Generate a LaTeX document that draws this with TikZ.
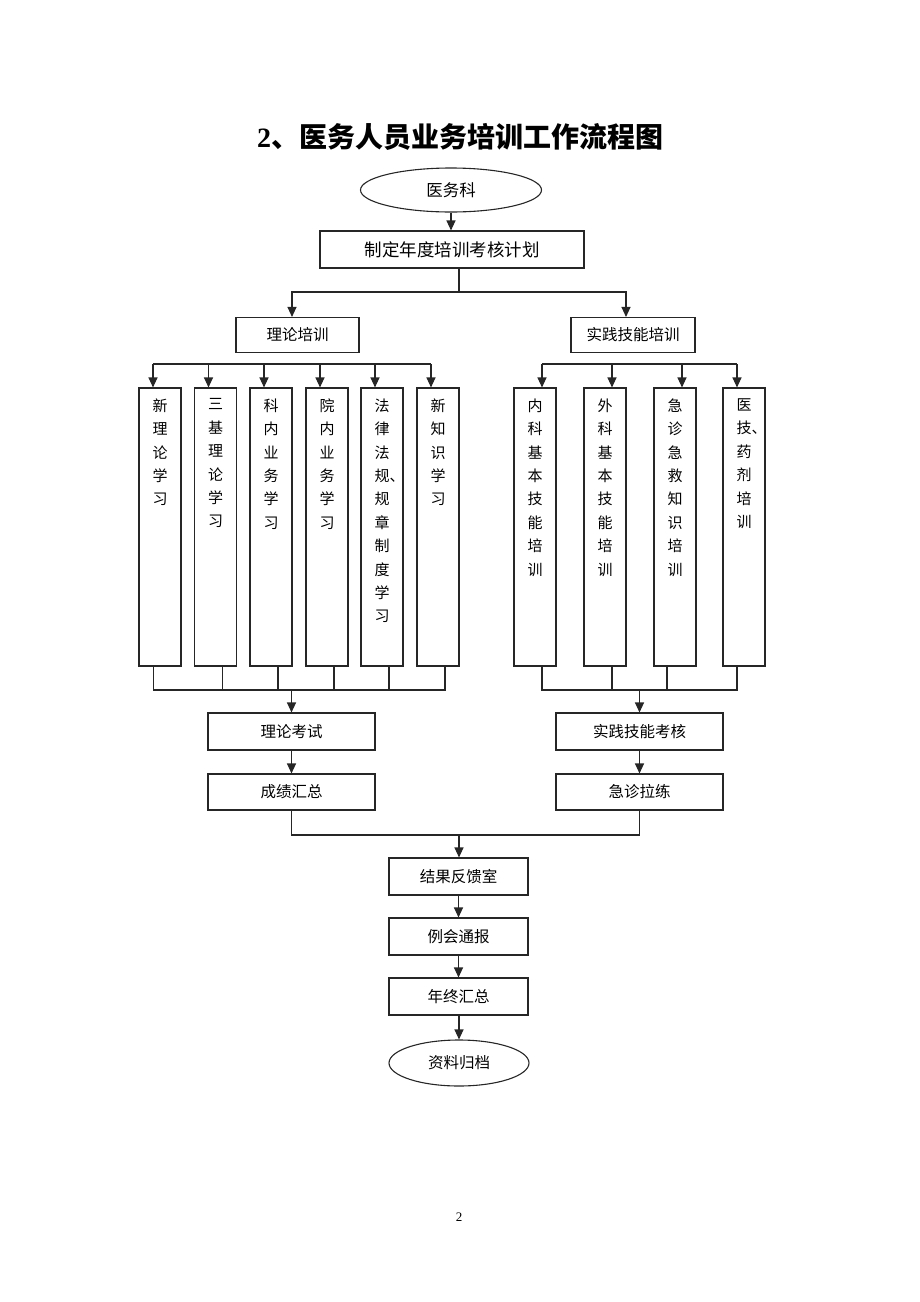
\documentclass[tikz,border=0pt]{standalone}
\usepackage{fontspec}
\setmainfont{Liberation Serif}
\newfontfamily\cjk{Noto Sans CJK SC}
\usetikzlibrary{arrows.meta,shapes.geometric}
\tikzset{
  ln/.style={draw=black!85,line width=1.1pt},
  arr/.style={ln,-{Triangle[length=10pt,width=9pt]}},
  box/.style={draw=black!85,line width=1.1pt,rectangle,inner sep=0pt,font=\cjk\fontsize{15.5}{18}\selectfont},
  oval/.style={draw=black!85,line width=1.1pt,ellipse,inner sep=0pt,font=\cjk\fontsize{16.5}{18}\selectfont},
  vbox/.style={draw=black!85,line width=1.1pt,rectangle,inner sep=0pt,minimum width=42pt,minimum height=278pt},
  vtxt/.style={anchor=north,inner sep=0pt,align=center,font=\cjk\fontsize{15}{23.4}\selectfont},
}
\begin{document}
\begin{tikzpicture}[x=1pt,y=-1pt]
\useasboundingbox (0,0) rectangle (920,1302);
% title
\node (title) at (460,137) {\bfseries\fontsize{28}{30}\selectfont 2{\cjk 、医务人员业务培训工作流程图}};
% top
\node[oval,minimum width=181pt,minimum height=44pt] (yiwu) at (451,190) {医务科};
\node[box,minimum width=264pt,minimum height=37pt,font=\cjk\fontsize{17.5}{18}\selectfont] (plan) at (452,249.5) {制定年度培训考核计划};
\node[box,minimum width=123pt,minimum height=35pt] (lilun) at (297.5,335) {理论培训};
\node[box,minimum width=124pt,minimum height=35pt] (shijian) at (633,335) {实践技能培训};
% left vertical boxes
\node[vbox,label={[vtxt,yshift=-11pt]north:新\\理\\论\\学\\习}] (l1) at (160,527) {};
\node[vbox,label={[vtxt,yshift=-11pt]north:三\\基\\理\\论\\学\\习}] (l2) at (215.5,527) {};
\node[vbox,label={[vtxt,yshift=-11pt]north:科\\内\\业\\务\\学\\习}] (l3) at (271,527) {};
\node[vbox,label={[vtxt,yshift=-11pt]north:院\\内\\业\\务\\学\\习}] (l4) at (327,527) {};
\node[vbox,label={[vtxt,yshift=-11pt]north:法\\律\\法\\规\rlap{、}\\规\\章\\制\\度\\学\\习}] (l5) at (382,527) {};
\node[vbox,label={[vtxt,yshift=-11pt]north:新\\知\\识\\学\\习}] (l6) at (438,527) {};
% right vertical boxes
\node[vbox,label={[vtxt,yshift=-11pt]north:内\\科\\基\\本\\技\\能\\培\\训}] (r1) at (535,527) {};
\node[vbox,label={[vtxt,yshift=-11pt]north:外\\科\\基\\本\\技\\能\\培\\训}] (r2) at (605,527) {};
\node[vbox,label={[vtxt,yshift=-11pt]north:急\\诊\\急\\救\\知\\识\\培\\训}] (r3) at (675,527) {};
\node[vbox,label={[vtxt,yshift=-11pt]north:医\\技\rlap{、}\\药\\剂\\培\\训}] (r4) at (744,527) {};
% exams
\node[box,minimum width=167pt,minimum height=37pt] (kaoshi) at (291.5,731.5) {理论考试};
\node[box,minimum width=167pt,minimum height=36pt] (huizong) at (291.5,792) {成绩汇总};
\node[box,minimum width=167pt,minimum height=37pt] (kaohe) at (639.5,731.5) {实践技能考核};
\node[box,minimum width=167pt,minimum height=36pt] (lalian) at (639.5,792) {急诊拉练};
% bottom chain
\node[box,minimum width=139pt,minimum height=37pt] (fankui) at (458.5,876.5) {结果反馈室};
\node[box,minimum width=139pt,minimum height=37pt] (tongbao) at (458.5,936.5) {例会通报};
\node[box,minimum width=139pt,minimum height=37pt] (nianzhong) at (458.5,996.5) {年终汇总};
\node[oval,minimum width=140pt,minimum height=46pt,font=\cjk\fontsize{15.5}{18}\selectfont] (guidang) at (459,1063) {资料归档};
% page number
\node[font=\fontsize{13}{14}\selectfont] (pnum) at (459,1217) {2};
% coordinates
\coordinate (bj) at (459,292);
\coordinate (tb) at (0,364);
\coordinate (bb) at (0,690);
\coordinate (mj) at (459,835);
% connectors top
\draw[arr] (yiwu.south) -- (yiwu.south |- plan.north);
\draw[ln] (plan.south -| bj) -- (bj);
\draw[arr] (bj) -| ([xshift=-5.5pt]lilun.north);
\draw[arr] (bj) -| ([xshift=-7pt]shijian.north);
% left top bus
\draw[ln] ([xshift=-7pt]l1.north |- tb) -- ([xshift=-7pt]l6.north |- tb);
\foreach \n in {l1,l2,l3,l4,l5,l6}{
  \draw[arr] ([xshift=-7pt]\n.north |- tb) -- ([xshift=-7pt]\n.north);
}
% right top bus
\draw[ln] ([xshift=7pt]r1.north |- tb) -- ([xshift=-7pt]r4.north |- tb);
\foreach \n in {r1,r2,r3}{
  \draw[arr] ([xshift=7pt]\n.north |- tb) -- ([xshift=7pt]\n.north);
}
\draw[arr] ([xshift=-7pt]r4.north |- tb) -- ([xshift=-7pt]r4.north);
% left bottom bus
\draw[ln] ([xshift=-6.5pt]l1.south) -- ([xshift=-6.5pt]l1.south |- bb) -- ([xshift=7pt]l6.south |- bb) -- ([xshift=7pt]l6.south);
\foreach \n in {l2,l3,l4,l5}{
  \draw[ln] ([xshift=7pt]\n.south) -- ([xshift=7pt]\n.south |- bb);
}
\draw[arr] (kaoshi.north |- bb) -- (kaoshi.north);
% right bottom bus
\draw[ln] ([xshift=7pt]r1.south) -- ([xshift=7pt]r1.south |- bb) -- ([xshift=-7pt]r4.south |- bb) -- ([xshift=-7pt]r4.south);
\draw[ln] ([xshift=7pt]r2.south) -- ([xshift=7pt]r2.south |- bb);
\draw[ln] ([xshift=-8pt]r3.south) -- ([xshift=-8pt]r3.south |- bb);
\draw[arr] (kaohe.north |- bb) -- (kaohe.north);
% exams
\draw[arr] (kaoshi) -- (huizong);
\draw[arr] (kaohe) -- (lalian);
\draw[ln] (huizong.south) -- (huizong.south |- mj) -- (lalian.south |- mj) -- (lalian.south);
\draw[arr] (mj) -- (mj |- fankui.north);
% chain
\draw[arr] (fankui) -- (tongbao);
\draw[arr] (tongbao) -- (nianzhong);
\draw[arr] (nianzhong.south) -- (nianzhong.south -| guidang.north) -- (guidang.north);
\end{tikzpicture}
\end{document}
